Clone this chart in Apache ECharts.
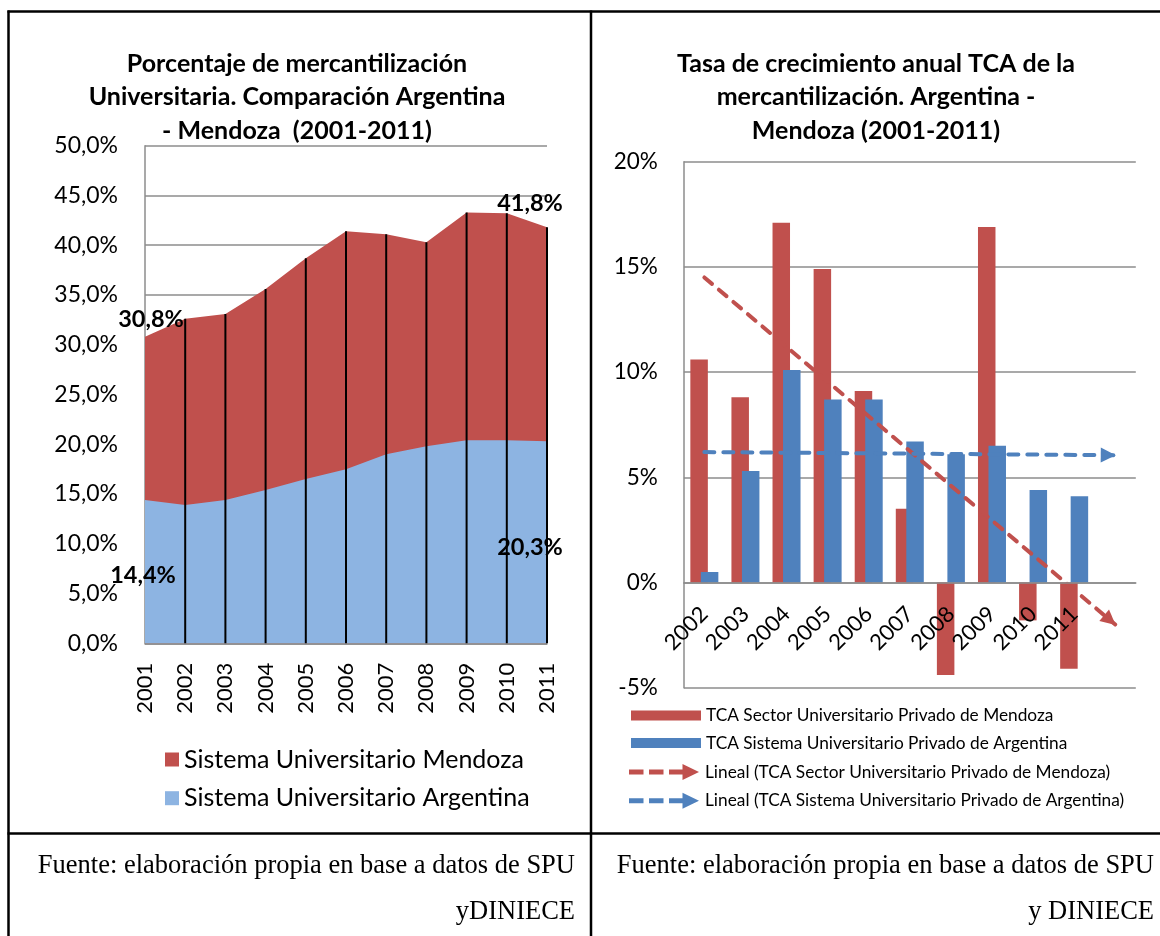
<!DOCTYPE html>
<html>
<head>
<meta charset="utf-8">
<title>Mercantilizacion universitaria Argentina - Mendoza</title>
<script src="https://cdn.jsdelivr.net/npm/echarts@6/dist/echarts.min.js"></script>
<style>
html, body { margin: 0; padding: 0; background: #fff; }
#main { width: 1160px; height: 936px; }
</style>
</head>
<body>
<div id="main"></div>
<script>
// ---- datos grafico 1 (porcentaje de mercantilizacion) ----
var anios = ['2001', '2002', '2003', '2004', '2005', '2006', '2007', '2008', '2009', '2010', '2011'];
var mendoza = [30.8, 32.6, 33.1, 35.6, 38.7, 41.4, 41.1, 40.3, 43.3, 43.2, 41.8];
var argentina = [14.4, 13.9, 14.4, 15.4, 16.5, 17.5, 19.0, 19.8, 20.4, 20.4, 20.3];
var ticksPct = [0, 50, 5];   // min, max, paso

// ---- datos grafico 2 (TCA) ----
var aniosTca = ['2002', '2003', '2004', '2005', '2006', '2007', '2008', '2009', '2010', '2011'];
var tcaMendoza = [10.6, 8.8, 17.1, 14.9, 9.1, 3.5, -4.4, 16.9, -1.8, -4.1];
var tcaArgentina = [0.5, 5.3, 10.1, 8.7, 8.7, 6.7, 6.1, 6.5, 4.4, 4.1];
// lineas de tendencia (inicio en 2002, fin un periodo despues de 2011)
var tendMendoza = [14.5, -2.0];
var tendArgentina = [6.2, 6.05];
var ticksTca = [-5, 20, 5];

var ROJO = '#C0504D';
var AZUL = '#4F81BD';
var CELESTE = '#8DB4E2';
var GRIS = '#8C8C8C';
var FUENTE = 'Lato, "Noto Sans", sans-serif';
var SERIF = '"Liberation Serif", "Times New Roman", serif';

var nomMendoza = 'Sistema Universitario Mendoza';
var nomArgentina = 'Sistema Universitario Argentina';
var nomTcaM = 'TCA Sector Universitario Privado de Mendoza';
var nomTcaA = 'TCA Sistema Universitario Privado de Argentina';
var nomLinM = 'Lineal (TCA Sector Universitario Privado de Mendoza)';
var nomLinA = 'Lineal (TCA Sistema Universitario Privado de Argentina)';

var iconoFlecha = 'path://M0 5.5h14.5v5H0z M20 5.5h14.5v5H20z M40 5.5h13.5v5H40z M53.5 0L70 8L53.5 16z';

// grilla del grafico 2, el eje x va sobre el 0%
var altoGrid2 = 526;
var offsetCero = -(0 - ticksTca[0]) / (ticksTca[1] - ticksTca[0]) * altoGrid2;

function pct1(v) {
	return v.toFixed(1).replace('.', ',') + '%';
}

// etiqueta solo en el primer y ultimo punto
function conEtiquetas(valores, pos, offIni, offFin) {
	return valores.map(function (v, i) {
		if (i === 0 || i === valores.length - 1) {
			return {
				value: v,
				label: {
					show: true, position: pos,
					offset: i === 0 ? offIni : offFin,
					formatter: function (p) { return pct1(p.value); },
					fontSize: 23.5, fontWeight: 'bold', color: '#000', fontFamily: FUENTE
				}
			};
		}
		return v;
	});
}

// linea de tendencia punteada con flecha al final
function tendencia(nombre, color, valores) {
	return {
		name: nombre, type: 'line', xAxisIndex: 1, yAxisIndex: 1, data: [],
		itemStyle: { color: color }, lineStyle: { color: color },
		markLine: {
			silent: true, symbol: ['none', 'triangle'], symbolSize: [15, 15],
			symbolOffset: [0, [0, 7]],
			label: { show: false },
			lineStyle: { color: color, width: 4, type: [10, 9], cap: 'round' },
			data: [[{ coord: [0, valores[0]] }, { coord: [aniosTca.length, valores[1]] }]]
		},
		z: 4
	};
}

var myChart = echarts.init(document.getElementById('main'), null, { renderer: 'canvas' });

var option = {
	backgroundColor: '#fff',
	animation: false,
	textStyle: { fontFamily: FUENTE, color: '#000' },
	title: [
		{
			text: 'Porcentaje de mercantilización\nUniversitaria. Comparación Argentina\n- Mendoza  (2001-2011)',
			left: 297, top: 47, textAlign: 'center', padding: 0,
			textStyle: { fontSize: 25, fontWeight: 'bold', lineHeight: 33.5, color: '#000', fontFamily: FUENTE }
		},
		{
			text: 'Tasa de crecimiento anual TCA de la\nmercantilización. Argentina -\nMendoza (2001-2011)',
			left: 876, top: 47, textAlign: 'center', padding: 0,
			textStyle: { fontSize: 25, fontWeight: 'bold', lineHeight: 33.5, color: '#000', fontFamily: FUENTE }
		}
	],
	legend: [
		{
			data: [nomMendoza, nomArgentina],
			orient: 'vertical', left: 165, top: 747, padding: 0,
			icon: 'rect', itemWidth: 14, itemHeight: 14, itemGap: 13.7,
			selectedMode: false,
			textStyle: { fontSize: 25, lineHeight: 24, color: '#000', fontFamily: FUENTE }
		},
		{
			data: [nomTcaM, nomTcaA],
			orient: 'vertical', left: 631, top: 706.5, padding: 0,
			icon: 'rect', itemWidth: 70, itemHeight: 10, itemGap: 9.6,
			selectedMode: false,
			textStyle: { fontSize: 17.3, lineHeight: 18, color: '#000', fontFamily: FUENTE }
		},
		{
			data: [
				{ name: nomLinM, icon: iconoFlecha, itemStyle: { color: ROJO } },
				{ name: nomLinA, icon: iconoFlecha, itemStyle: { color: AZUL } }
			],
			orient: 'vertical', left: 629, top: 763, padding: 0,
			itemWidth: 72, itemHeight: 16, itemGap: 10.7,
			selectedMode: false,
			textStyle: { fontSize: 17.3, lineHeight: 18, color: '#000', fontFamily: FUENTE }
		}
	],
	grid: [
		{ left: 145, top: 145.7, width: 402, height: 497.6, containLabel: false, outerBoundsMode: 'none' },
		{ left: 683.8, top: 161.7, width: 452, height: altoGrid2, containLabel: false, outerBoundsMode: 'none' }
	],
	xAxis: [
		{
			type: 'category', gridIndex: 0, data: anios, boundaryGap: false,
			axisLine: { show: true, lineStyle: { color: GRIS, width: 1.5 } },
			axisTick: { show: false },
			splitLine: { show: false },
			axisLabel: { rotate: 90, margin: 19.5, interval: 0, fontSize: 22, color: '#000', fontFamily: FUENTE }
		},
		{
			type: 'category', gridIndex: 1, data: aniosTca.concat(['']),
			position: 'bottom', offset: offsetCero, z: 5,
			axisLine: { show: true, onZero: false, lineStyle: { color: GRIS, width: 1.5 } },
			axisTick: { show: false },
			splitLine: { show: false },
			axisLabel: { rotate: 45, margin: 28, interval: 0, fontSize: 22, color: '#000', fontFamily: FUENTE }
		}
	],
	yAxis: [
		{
			type: 'value', gridIndex: 0, min: ticksPct[0], max: ticksPct[1], interval: ticksPct[2],
			axisLine: { show: true, lineStyle: { color: GRIS, width: 1.5 } },
			axisTick: { show: false },
			splitLine: { show: true, lineStyle: { color: GRIS, width: 1.5 } },
			axisLabel: { margin: 27, fontSize: 23, color: '#000', fontFamily: FUENTE, formatter: pct1 }
		},
		{
			type: 'value', gridIndex: 1, min: ticksTca[0], max: ticksTca[1], interval: ticksTca[2],
			axisLine: { show: true, lineStyle: { color: GRIS, width: 1.5 } },
			axisTick: { show: false },
			splitLine: { show: true, lineStyle: { color: GRIS, width: 1.5 } },
			axisLabel: { margin: 26, fontSize: 22.5, color: '#000', fontFamily: FUENTE, formatter: '{value}%' }
		}
	],
	series: [
		{
			name: nomMendoza, type: 'line', xAxisIndex: 0, yAxisIndex: 0,
			data: conEtiquetas(mendoza, 'top', [6, 0], [-17, -7]),
			symbol: 'circle', symbolSize: 0, showSymbol: true,
			lineStyle: { width: 0, color: ROJO }, itemStyle: { color: ROJO },
			areaStyle: { color: ROJO, opacity: 1 }, z: 2
		},
		{
			name: nomArgentina, type: 'line', xAxisIndex: 0, yAxisIndex: 0,
			data: conEtiquetas(argentina, 'bottom', [-2, 58], [-17, 89]),
			symbol: 'circle', symbolSize: 0, showSymbol: true,
			lineStyle: { width: 0, color: CELESTE }, itemStyle: { color: CELESTE },
			areaStyle: { color: CELESTE, opacity: 1 }, z: 2
		},
		{
			// lineas de proyeccion verticales (la de 2001 queda bajo el eje)
			name: 'lineas', type: 'bar', xAxisIndex: 0, yAxisIndex: 0,
			data: mendoza.map(function (v, i) { return i === 0 ? '-' : v; }),
			barWidth: 2, silent: true,
			itemStyle: { color: '#000' }, z: 2
		},
		{
			name: nomTcaM, type: 'bar', xAxisIndex: 1, yAxisIndex: 1,
			data: tcaMendoza, barWidth: 17.5, barGap: '-40%',
			itemStyle: { color: ROJO }
		},
		{
			name: nomTcaA, type: 'bar', xAxisIndex: 1, yAxisIndex: 1,
			data: tcaArgentina, barWidth: 17.5, barGap: '-40%',
			itemStyle: { color: AZUL }
		},
		tendencia(nomLinM, ROJO, tendMendoza),
		tendencia(nomLinA, AZUL, tendArgentina)
	],
	graphic: [
		// bordes de la tabla
		{ type: 'line', silent: true, shape: { x1: 8.5, y1: 10.5, x2: 8.5, y2: 936 }, style: { stroke: '#000', lineWidth: 2.5 } },
		{ type: 'line', silent: true, shape: { x1: 7.5, y1: 11.5, x2: 1160, y2: 11.5 }, style: { stroke: '#000', lineWidth: 2.5 } },
		{ type: 'line', silent: true, shape: { x1: 591, y1: 10.5, x2: 591, y2: 936 }, style: { stroke: '#000', lineWidth: 2.5 } },
		{ type: 'line', silent: true, shape: { x1: 7.5, y1: 833.5, x2: 1160, y2: 833.5 }, style: { stroke: '#000', lineWidth: 2.5 } },
		// fuente
		{ type: 'text', silent: true, x: 575, y: 866, style: { text: 'Fuente: elaboración propia en base a datos de SPU', fontSize: 26.5, fontFamily: SERIF, fill: '#000', align: 'right', verticalAlign: 'middle' } },
		{ type: 'text', silent: true, x: 575, y: 912, style: { text: 'yDINIECE', fontSize: 26.5, fontFamily: SERIF, fill: '#000', align: 'right', verticalAlign: 'middle' } },
		{ type: 'text', silent: true, x: 1154, y: 866, style: { text: 'Fuente: elaboración propia en base a datos de SPU', fontSize: 26.5, fontFamily: SERIF, fill: '#000', align: 'right', verticalAlign: 'middle' } },
		{ type: 'text', silent: true, x: 1154, y: 912, style: { text: 'y DINIECE', fontSize: 26.5, fontFamily: SERIF, fill: '#000', align: 'right', verticalAlign: 'middle' } }
	]
};

myChart.setOption(option);
</script>
</body>
</html>
